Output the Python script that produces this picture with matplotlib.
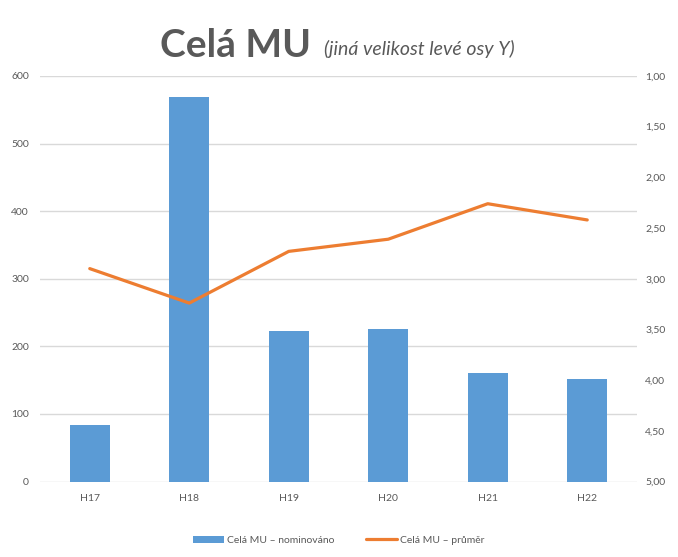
import matplotlib
matplotlib.use("Agg")
import matplotlib.pyplot as plt
from matplotlib.ticker import FuncFormatter

categories = ["H17", "H18", "H19", "H20", "H21", "H22"]
nominovano = [83, 569, 222, 225, 161, 151]
prumer = [2.90, 3.24, 2.73, 2.61, 2.26, 2.42]
left_ticks = [0, 100, 200, 300, 400, 500, 600]
right_ticks = [1.0, 1.5, 2.0, 2.5, 3.0, 3.5, 4.0, 4.5, 5.0]

plt.rcParams['font.family'] = ['Lato', 'DejaVu Sans']
txt = '#595959'
grid = '#D9D9D9'

fig = plt.figure(figsize=(6.78, 5.57), dpi=100)
ax = fig.add_axes([0.059, 0.1355, 0.8805, 0.7281])
x = list(range(len(categories)))
ax.bar(x, nominovano, width=0.4, color='#5B9BD5', zorder=2,
       label='Celá MU – nominováno')
ax.set_xlim(-0.5, len(categories) - 0.5)
ax.set_ylim(0, 600)
ax.set_yticks(left_ticks)
ax.set_xticks(x)
ax.set_xticklabels(categories)
ax.grid(axis='y', color=grid, linewidth=1, zorder=0)
for s in ax.spines.values():
    s.set_visible(False)
ax.tick_params(axis='both', length=0, colors=txt, labelsize=7.5)
ax.tick_params(axis='y', pad=8)
ax.tick_params(axis='x', pad=9)

ax2 = ax.twinx()
ax2.plot(x, prumer, color='#ED7D31', linewidth=2.3, zorder=3,
         solid_capstyle='round', label='Celá MU – průměr')
ax2.set_ylim(5.0, 1.0)
ax2.set_yticks(right_ticks)
ax2.yaxis.set_major_formatter(FuncFormatter(lambda v, p: f"{v:.2f}".replace('.', ',')))
for s in ax2.spines.values():
    s.set_visible(False)
ax2.tick_params(axis='y', length=0, colors=txt, labelsize=7.5, pad=6)

fig.text(0.348, 0.918, "Celá MU", fontsize=28, fontweight='bold', color=txt,
         ha='center', va='center')
fig.text(0.618, 0.912, "(jiná velikost levé osy Y)", fontsize=14, style='italic',
         color=txt, ha='center', va='center')

h1, l1 = ax.get_legend_handles_labels()
h2, l2 = ax2.get_legend_handles_labels()
fig.legend(h1 + h2, l1 + l2, loc='center', bbox_to_anchor=(0.5, 0.03), ncol=2,
           frameon=False, fontsize=7.5, labelcolor=txt, handlelength=3.0,
           handletextpad=0.3, columnspacing=3)

fig.savefig("out.png", dpi=100)
